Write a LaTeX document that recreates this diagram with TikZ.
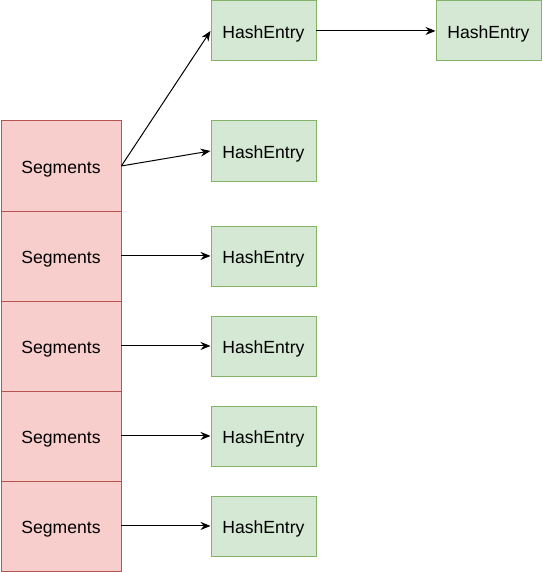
\documentclass[tikz,border=0pt]{standalone}
\usepackage{fontspec}
\setmainfont{Liberation Sans}
\usetikzlibrary{arrows.meta}
\definecolor{segfill}{HTML}{F8CECC}
\definecolor{segdraw}{HTML}{B85450}
\definecolor{hefill}{HTML}{D5E8D4}
\definecolor{hedraw}{HTML}{82B366}
\begin{document}
\begin{tikzpicture}[x=1pt,y=-1pt,
  box/.style={line width=0.9pt,inner sep=0pt,text height=18pt,text depth=3.8pt,font=\fontsize{17.6}{20}\selectfont,anchor=north west},
  seg/.style={box,draw=segdraw,fill=segfill,minimum width=120pt,minimum height=90pt},
  he/.style={box,draw=hedraw,fill=hefill,minimum width=105pt,minimum height=60pt},
  arr/.style={-{Stealth[length=10pt,width=8pt]},line width=1pt}]
\useasboundingbox (0,0) rectangle (542,572);
\node[seg] (s1) at (0.5,120.5) {Segments};
\node[seg] (s2) at (0.5,210.5) {Segments};
\node[seg] (s3) at (0.5,300.5) {Segments};
\node[seg] (s4) at (0.5,390.5) {Segments};
\node[seg] (s5) at (0.5,480.5) {Segments};
\node[he] (h0) at (210.5,0.5) {HashEntry};
\node[he] (h00) at (435.5,0.5) {HashEntry};
\node[he] (h1) at (210.5,120.5) {HashEntry};
\node[he] (h2) at (210.5,225.5) {HashEntry};
\node[he] (h3) at (210.5,315.5) {HashEntry};
\node[he] (h4) at (210.5,405.5) {HashEntry};
\node[he] (h5) at (210.5,495.5) {HashEntry};
\draw[arr] (s1.east) -- (h0.west);
\draw[arr] (s1.east) -- (h1.west);
\draw[arr] (h0.east) -- (h00.west);
\draw[arr] (s2.east) -- (h2.west);
\draw[arr] (s3.east) -- (h3.west);
\draw[arr] (s4.east) -- (h4.west);
\draw[arr] (s5.east) -- (h5.west);
\end{tikzpicture}
\end{document}
